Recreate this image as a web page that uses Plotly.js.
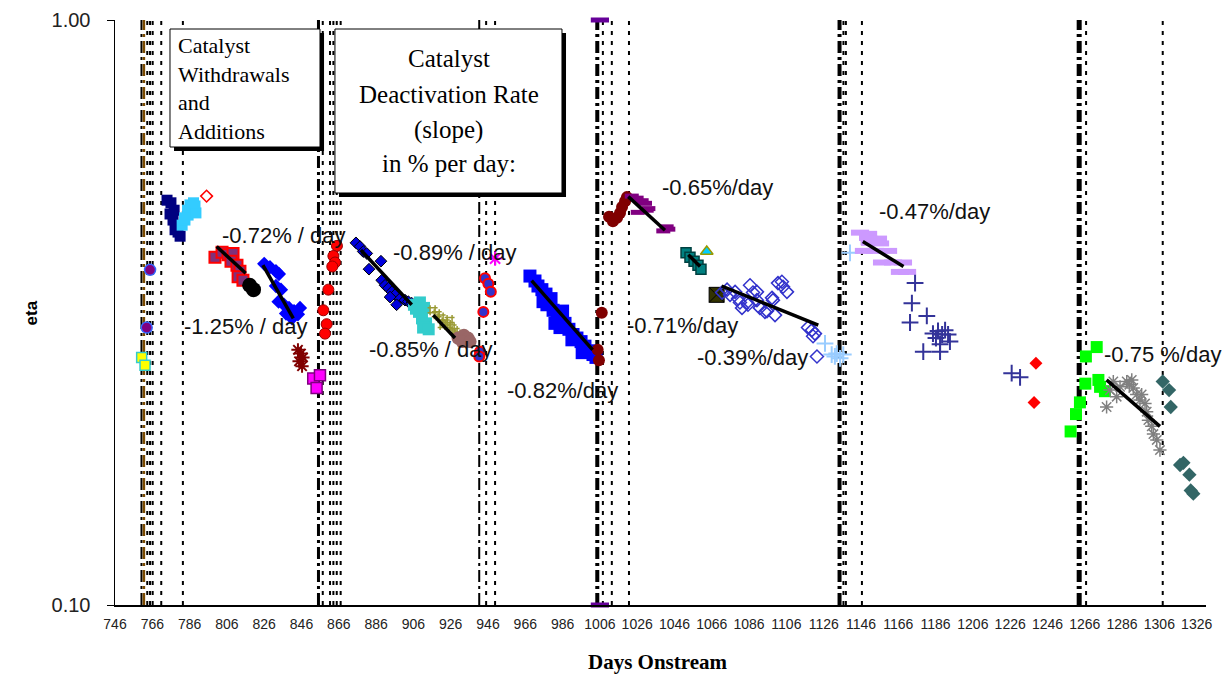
<!DOCTYPE html>
<html><head><meta charset="utf-8">
<script src="https://cdn.plot.ly/plotly-3.0.1.min.js"></script>
<style>html,body{margin:0;padding:0;background:#fff}#chart{width:1226px;height:675px}</style>
</head><body><div id="chart"></div>
<script>
// ---------------- DATA (days onstream, eta) ----------------
const xTickVals = [746,766,786,806,826,846,866,886,906,926,946,966,986,1006,1026,1046,1066,1086,1106,1126,1146,1166,1186,1206,1226,1246,1266,1286,1306,1326];
const yTickVals = [0.1, 1];
const yTickText = ['0.10', '1.00'];

// catalyst withdrawal / addition events (days)
const majorEventDays = [760.2, 855.1, 941.3, 1004.6, 1134.5, 1263.0];
const brownEventDays = [761.5];
const minorEventDays = [763.3, 764.8, 766.2, 770.8, 782.4, 857.4, 861.3, 863.1, 864.9, 867.0, 945.0, 949.8, 1007.6, 1012.4, 1021.6, 1136.6, 1137.9, 1146.5, 1266.7, 1307.8];

const yellowX = [760.3, 762.1];
const yellowY = [0.265, 0.257];
const purpleCircX = [764.8, 763.0];
const purpleCircY = [0.374, 0.298];
const navyX = [773.9, 776.0, 777.7, 775.5, 777.1, 778.7, 779.8, 780.9, 778.2];
const navyY = [0.492, 0.487, 0.473, 0.466, 0.455, 0.444, 0.434, 0.427, 0.438];
const skyX = [782.0, 783.5, 785.2, 787.3, 788.9, 786.2, 784.9, 783.3, 789.4, 788.1];
const skyY = [0.446, 0.455, 0.464, 0.473, 0.481, 0.483, 0.473, 0.459, 0.468, 0.487];
const redOpenDiaX = [795.1];
const redOpenDiaY = [0.500];
const plumSqX = [799.6, 803.4, 806.6, 809.3, 808.2, 811.4, 813.0, 812.0, 814.6];
const plumSqY = [0.393, 0.401, 0.397, 0.399, 0.387, 0.381, 0.372, 0.364, 0.359];
const blackCircX = [818.2, 820.3];
const blackCircY = [0.352, 0.346];
const blueDiaX = [826.0, 829.1, 832.3, 833.9, 832.3, 835.0, 833.7, 836.6, 839.3, 842.0, 844.1, 840.9, 845.2, 837.7];
const blueDiaY = [0.383, 0.378, 0.372, 0.368, 0.351, 0.346, 0.330, 0.326, 0.322, 0.318, 0.314, 0.309, 0.322, 0.315];
const maroonStarX = [844.1, 845.7, 846.8, 844.7, 846.3];
const maroonStarY = [0.273, 0.269, 0.265, 0.261, 0.256];
const magentaSqX = [852.3, 855.9, 854.1];
const magentaSqY = [0.244, 0.247, 0.235];
const redCircX = [865.0, 863.1, 864.0, 862.5, 860.4, 857.7, 859.5, 858.6];
const redCircY = [0.411, 0.395, 0.385, 0.379, 0.346, 0.319, 0.302, 0.291];
const royalDiaX = [875.2, 877.4, 879.1, 881.0, 888.6, 882.2, 889.0, 890.8, 892.6, 894.4, 896.1, 898.8, 901.5, 903.3, 897.0, 905.1, 893.5];
const royalDiaY = [0.416, 0.410, 0.402, 0.399, 0.387, 0.375, 0.359, 0.352, 0.348, 0.343, 0.339, 0.334, 0.332, 0.330, 0.326, 0.328, 0.336];
const tealSqX = [906.3, 909.5, 911.7, 909.0, 910.6, 912.8, 911.2, 914.2, 907.4];
const tealSqY = [0.326, 0.329, 0.322, 0.317, 0.309, 0.303, 0.298, 0.296, 0.321];
const oliveX = [916.3, 918.5, 920.6, 922.8, 924.4, 926.5, 928.1, 929.7, 921.7, 925.4];
const oliveY = [0.319, 0.314, 0.310, 0.304, 0.301, 0.298, 0.294, 0.290, 0.301, 0.307];
const rosyX = [929.9, 933.1, 935.3, 932.1, 936.4];
const rosyY = [0.286, 0.289, 0.286, 0.282, 0.282];
const blueRedCircX = [944.4, 946.2, 947.5, 943.5, 941.7, 941.3];
const blueRedCircY = [0.362, 0.354, 0.343, 0.317, 0.271, 0.266];
const magentaStarX = [949.8];
const magentaStarY = [0.391];
const blueSqX = [968.5, 971.2, 972.8, 974.9, 977.1, 979.8, 977.6, 980.9, 983.0, 985.1, 981.9, 987.3, 989.4, 991.6, 993.7, 995.9, 998.0, 1000.2, 1002.3, 1003.9, 984.6, 991.0, 975.5, 986.0, 996.5];
const blueSqY = [0.365, 0.358, 0.351, 0.346, 0.340, 0.334, 0.326, 0.319, 0.314, 0.309, 0.303, 0.303, 0.296, 0.290, 0.286, 0.282, 0.277, 0.272, 0.268, 0.265, 0.298, 0.284, 0.330, 0.318, 0.270];
const maroonCircX = [1007.0, 1004.8, 1005.5, 1010.9, 1013.0, 1015.2, 1016.8, 1017.9, 1019.5, 1020.5];
const maroonCircY = [0.316, 0.273, 0.262, 0.461, 0.453, 0.459, 0.468, 0.479, 0.490, 0.498];
const purpleDashX = [1023.1, 1025.7, 1028.4, 1030.2, 1032.0, 1026.3, 1031.1, 1041.8, 1040.0, 1042.7];
const purpleDashY = [0.500, 0.496, 0.491, 0.486, 0.476, 0.469, 0.473, 0.443, 0.436, 0.439];
const edgeMarkX = [1006.0, 1006.0];
const edgeMarkY = [1.0, 0.1];
const darkTealX = [1052.2, 1054.3, 1056.5, 1058.6, 1060.2];
const darkTealY = [0.400, 0.393, 0.387, 0.381, 0.375];
const triX = [1063.3];
const triY = [0.402];
const oliveBoxX = [1068.6];
const oliveBoxY = [0.339];
const openDiaX = [1071.5, 1074.2, 1075.8, 1078.5, 1080.1, 1081.1, 1082.2, 1084.9, 1085.4, 1086.5, 1088.1, 1090.2, 1090.2, 1091.8, 1094.5, 1095.6, 1098.3, 1098.8, 1099.9, 1101.5, 1103.6, 1104.2, 1106.3, 1117.6, 1119.7, 1121.3, 1120.3, 1122.4];
const openDiaY = [0.342, 0.346, 0.339, 0.343, 0.334, 0.329, 0.322, 0.329, 0.326, 0.352, 0.342, 0.343, 0.332, 0.322, 0.317, 0.318, 0.335, 0.332, 0.313, 0.355, 0.357, 0.350, 0.343, 0.298, 0.295, 0.291, 0.288, 0.266];
const paleCrossX = [1126.7, 1130.3, 1133.0, 1134.8, 1132.0, 1136.5, 1140.1];
const paleCrossY = [0.280, 0.268, 0.269, 0.264, 0.266, 0.268, 0.400];
const lilacX = [1145.5, 1149.8, 1149.8, 1155.1, 1150.8, 1156.2, 1147.6, 1153.5, 1160.5, 1157.3, 1163.2, 1168.5, 1166.9, 1170.7];
const lilacY = [0.433, 0.431, 0.424, 0.423, 0.416, 0.415, 0.403, 0.403, 0.403, 0.385, 0.385, 0.385, 0.371, 0.371];
const indigoCrossX = [1175.0, 1173.3, 1181.3, 1172.3, 1184.6, 1187.3, 1189.5, 1191.1, 1192.7, 1186.2, 1188.4, 1193.7, 1179.4, 1188.4, 1226.8, 1231.3];
const indigoCrossY = [0.355, 0.328, 0.312, 0.304, 0.291, 0.294, 0.290, 0.295, 0.290, 0.286, 0.279, 0.282, 0.271, 0.271, 0.249, 0.245];
const redDiaX = [1239.8, 1238.8];
const redDiaY = [0.259, 0.222];
const greenSqX = [1258.4, 1261.3, 1263.4, 1266.3, 1266.6, 1272.4, 1273.3, 1274.2, 1276.8];
const greenSqY = [0.198, 0.212, 0.222, 0.239, 0.266, 0.276, 0.2425, 0.236, 0.232];
const grayStarX = [1277.7, 1279.5, 1281.3, 1283.1, 1284.9, 1288.5, 1291.2, 1292.0, 1293.8, 1295.6, 1298.3, 1299.2, 1300.1, 1301.9, 1302.8, 1304.6, 1306.3, 1289.9, 1296.5];
const grayStarY = [0.218, 0.233, 0.241, 0.227, 0.236, 0.241, 0.2425, 0.235, 0.229, 0.224, 0.221, 0.214, 0.207, 0.202, 0.196, 0.1915, 0.184, 0.238, 0.229];
const slateDiaX = [1307.8, 1311.2, 1312.1, 1317.1, 1318.9, 1322.1, 1322.8, 1324.2];
const slateDiaY = [0.241, 0.233, 0.218, 0.1735, 0.175, 0.167, 0.157, 0.155];

// fitted deactivation trend lines: [startDay, endDay], [startEta, endEta]
const trendX = [[800.5, 816.1], [825.3, 841.6], [877.8, 905.1], [916.7, 928.3], [969.4, 1002.1], [1021.2, 1040.9], [1053.4, 1059.7], [1071.3, 1123.1], [1147.0, 1168.8], [1277.7, 1306.3]];
const trendY = [[0.410, 0.369], [0.381, 0.309], [0.4045, 0.326], [0.313, 0.286], [0.3586, 0.2729], [0.499, 0.437], [0.397, 0.379], [0.351, 0.301], [0.418, 0.379], [0.2425, 0.202]];

// slope labels
const slopeLabels = ['-0.72% / day', '-1.25% / day', '-0.89% / day', '-0.85% / day', '-0.82%/day', '-0.65%/day', '-0.71%/day', '-0.39%/day', '-0.47%/day', '-0.75 %/day'];
const slopeLabelDay = [836.7, 816.0, 928.3, 915.2, 986.2, 1068.8, 1050.3, 1087.8, 1185.4, 1307.7];
const slopeLabelEta = [0.429, 0.299, 0.400, 0.273, 0.233, 0.518, 0.301, 0.265, 0.470, 0.268];

// ---------------- CHART ----------------
function pts(x, y, marker) {
  return {type: 'scatter', mode: 'markers', x: x, y: y, marker: marker, hoverinfo: 'x+y', cliponaxis: false};
}
const traces = [
  pts(yellowX, yellowY, {symbol: 'square', size: 10, color: '#ffff00', line: {color: '#33cccc', width: 1.5}}),
  pts(purpleCircX, purpleCircY, {symbol: 'circle', size: 11, color: '#800080', line: {color: '#3366ff', width: 1.5}}),
  pts(navyX, navyY, {symbol: 'square', size: 11, color: '#000080', line: {width: 0}}),
  pts(skyX, skyY, {symbol: 'square', size: 11, color: '#33ccff', line: {width: 0}}),
  pts(redOpenDiaX, redOpenDiaY, {symbol: 'diamond-open', size: 9, color: '#ff0000', line: {width: 1.5}}),
  pts(plumSqX, plumSqY, {symbol: 'square', size: 11, color: '#80307a', line: {color: '#ff0000', width: 2}}),
  pts(blackCircX, blackCircY, {symbol: 'circle', size: 15, color: '#000000', line: {width: 0}}),
  pts(blueDiaX, blueDiaY, {symbol: 'diamond', size: 11, color: '#0000ff', line: {width: 0}}),
  pts(maroonStarX, maroonStarY, {symbol: 'asterisk-open', size: 11, color: '#800000', line: {width: 2, color: '#800000'}}),
  pts(magentaSqX, magentaSqY, {symbol: 'square', size: 11, color: '#ff00ff', line: {color: '#800080', width: 1.5}}),
  pts(redCircX, redCircY, {symbol: 'circle', size: 11, color: '#ff0000', line: {color: '#990000', width: 1}}),
  pts(royalDiaX, royalDiaY, {symbol: 'diamond', size: 9, color: '#0000dd', line: {color: '#000000', width: 1}}),
  pts(tealSqX, tealSqY, {symbol: 'square', size: 12, color: '#33cccc', line: {width: 0}}),
  pts(oliveX, oliveY, {symbol: 'hash-open', size: 10, color: '#999933', line: {width: 1.5, color: '#999933'}}),
  pts(rosyX, rosyY, {symbol: 'circle', size: 13, color: '#996666', line: {width: 0}}),
  pts(blueRedCircX, blueRedCircY, {symbol: 'circle', size: 10, color: '#3333cc', line: {color: '#ff0000', width: 2}}),
  pts(magentaStarX, magentaStarY, {symbol: 'asterisk-open', size: 12, color: '#ff00ff', line: {width: 2, color: '#ff00ff'}}),
  pts(blueSqX, blueSqY, {symbol: 'square', size: 13, color: '#0000ff', line: {width: 0}}),
  pts(maroonCircX, maroonCircY, {symbol: 'circle', size: 12, color: '#800000', line: {width: 0}}),
  pts(purpleDashX, purpleDashY, {symbol: 'line-ew-open', size: 10, color: '#800080', line: {width: 5, color: '#800080'}}),
  pts(edgeMarkX, edgeMarkY, {symbol: 'line-ew-open', size: 13, color: '#660099', line: {width: 5, color: '#660099'}}),
  pts(darkTealX, darkTealY, {symbol: 'square', size: 10, color: '#008080', line: {color: '#004040', width: 1.5}}),
  pts(triX, triY, {symbol: 'triangle-up', size: 11, color: '#00ccff', line: {color: '#999900', width: 1.5}}),
  pts(oliveBoxX, oliveBoxY, {symbol: 'square-x', size: 15, color: '#333300', line: {color: '#000000', width: 1}}),
  pts(openDiaX, openDiaY, {symbol: 'diamond-open', size: 10, color: '#3333cc', line: {width: 1.5, color: '#3333cc'}}),
  pts(paleCrossX, paleCrossY, {symbol: 'cross-thin-open', size: 12, color: '#99ccff', line: {width: 2, color: '#99ccff'}}),
  pts(lilacX, lilacY, {symbol: 'line-ew-open', size: 13, color: '#cc99ff', line: {width: 6, color: '#cc99ff'}}),
  pts(indigoCrossX, indigoCrossY, {symbol: 'cross-thin-open', size: 12, color: '#333399', line: {width: 2, color: '#333399'}}),
  pts(redDiaX, redDiaY, {symbol: 'diamond', size: 10, color: '#ff0000', line: {width: 0}}),
  pts(greenSqX, greenSqY, {symbol: 'square', size: 12, color: '#00ff00', line: {width: 0}}),
  pts(grayStarX, grayStarY, {symbol: 'asterisk-open', size: 11, color: '#808080', line: {width: 1.5, color: '#808080'}}),
  pts(slateDiaX, slateDiaY, {symbol: 'diamond', size: 11, color: '#336666', line: {width: 0}})
];
for (let i = 0; i < trendX.length; i++) {
  traces.push({type: 'scatter', mode: 'lines', x: trendX[i], y: trendY[i], line: {color: '#000000', width: 3.5}, hoverinfo: 'skip'});
}

const shapes = [];
const majorWidths = [2, 3, 2, 4, 4, 5];
majorEventDays.forEach((d, i) => shapes.push({type: 'line', xref: 'x', yref: 'paper', x0: d, x1: d, y0: 0, y1: 1, layer: 'below',
  line: {color: '#000000', width: majorWidths[i], dash: '12px,4px,3px,4px'}}));
brownEventDays.forEach(d => shapes.push({type: 'line', xref: 'x', yref: 'paper', x0: d, x1: d, y0: 0, y1: 1, layer: 'below',
  line: {color: '#7a4a00', width: 2.5, dash: '12px,4px,3px,4px'}}));
minorEventDays.forEach(d => shapes.push({type: 'line', xref: 'x', yref: 'paper', x0: d, x1: d, y0: 0, y1: 1, layer: 'below',
  line: {color: '#000000', width: 2, dash: '4px,6px'}}));

// text boxes with drop shadows
const boxes = [
  [0.0504, 0.7829, 0.1879, 0.9846],
  [0.2016, 0.7043, 0.4097, 0.9846]
];
boxes.forEach(b => {
  shapes.push({type: 'rect', xref: 'paper', yref: 'paper', x0: b[0] + 0.0037, x1: b[2] + 0.0037, y0: b[1] - 0.0068, y1: b[3] - 0.0068,
    fillcolor: '#000000', line: {width: 0}, layer: 'above'});
  shapes.push({type: 'rect', xref: 'paper', yref: 'paper', x0: b[0], x1: b[2], y0: b[1], y1: b[3],
    fillcolor: '#ffffff', line: {color: '#000000', width: 1}, layer: 'above'});
});

const serif = 'Liberation Serif, Times New Roman, serif';
const sans = 'Liberation Sans, Arial, sans-serif';
const annotations = [];
annotations.push({xref: 'paper', yref: 'paper', x: 0.0559, y: 0.8821, xanchor: 'left', yanchor: 'middle', align: 'left', showarrow: false,
  text: 'Catalyst<br>Withdrawals<br>and<br>Additions', font: {family: serif, size: 22, color: '#000'}});
const box2Lines = ['Catalyst', 'Deactivation Rate', '(slope)', 'in % per day:'];
const box2Y = [0.9350, 0.8718, 0.8120, 0.7540];
box2Lines.forEach((t, i) => annotations.push({xref: 'paper', yref: 'paper', x: 0.3057, y: box2Y[i], xanchor: 'center', yanchor: 'middle',
  showarrow: false, text: t, font: {family: serif, size: 25, color: '#000'}}));
slopeLabels.forEach((t, i) => annotations.push({xref: 'x', yref: 'y', x: slopeLabelDay[i], y: Math.log10(slopeLabelEta[i]),
  xanchor: 'center', yanchor: 'middle', showarrow: false, text: t, font: {family: sans, size: 22, color: '#111'}}));
annotations.push({xref: 'paper', yref: 'paper', x: 0.4973, y: -0.0974, xanchor: 'center', yanchor: 'middle', showarrow: false,
  text: '<b>Days Onstream</b>', font: {family: serif, size: 21, color: '#000'}});
annotations.push({xref: 'paper', yref: 'paper', x: -0.0761, y: 0.5, xanchor: 'center', yanchor: 'middle', showarrow: false, textangle: -90,
  text: '<b>eta</b>', font: {family: sans, size: 17, color: '#000'}});

const layout = {
  width: 1226, height: 675,
  margin: {l: 115, r: 20, t: 20, b: 70, pad: 0},
  paper_bgcolor: '#ffffff', plot_bgcolor: '#ffffff',
  showlegend: false,
  xaxis: {range: [746, 1331], tickvals: xTickVals, ticks: '', showgrid: false, zeroline: false,
    showline: true, linecolor: '#000', linewidth: 1.5, tickfont: {family: sans, size: 14, color: '#222'}, ticklabelstandoff: 6},
  yaxis: {type: 'log', range: [-1, 0], tickvals: yTickVals, ticktext: yTickText, ticks: 'outside', ticklen: 7, tickcolor: '#000',
    showgrid: true, gridcolor: '#000', gridwidth: 1, zeroline: false, showline: true, linecolor: '#000', linewidth: 1.5,
    tickfont: {family: sans, size: 20, color: '#222'}, ticklabelstandoff: 12},
  shapes: shapes,
  annotations: annotations
};
Plotly.newPlot('chart', traces, layout, {displayModeBar: false, staticPlot: true});
</script></body></html>
